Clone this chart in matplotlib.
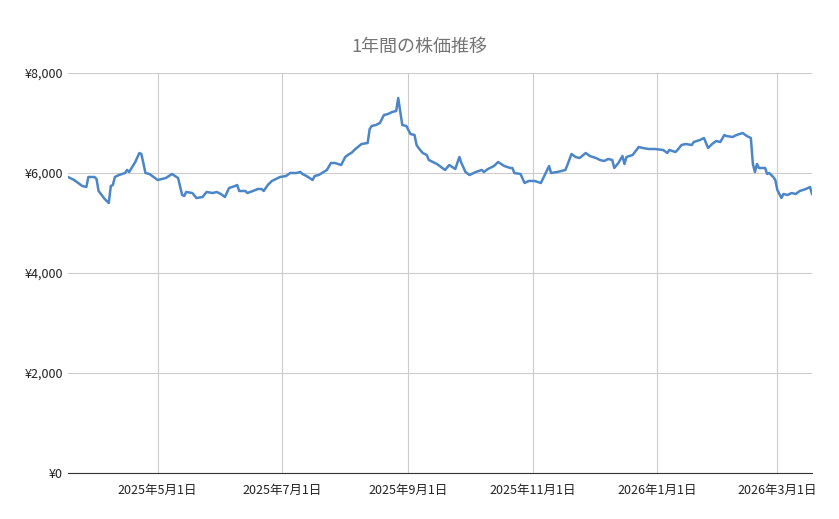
import matplotlib
matplotlib.use("Agg")
import matplotlib.pyplot as plt
import matplotlib.dates as mdates
import numpy as np
import pandas as pd

plt.rcParams['font.family'] = ['Noto Sans CJK JP', 'DejaVu Sans']

start_date = "2025-03-18"
day_offsets = [0,3,7,9,10,13,14,15,18,20,21,22,23,25,28,29,30,33,35,36,38,40,44,48,51,54,56,57,58,61,63,66,68,71,73,75,77,79,82,83,84,87,88,92,93,95,96,98,100,103,104,107,109,112,114,115,117,120,121,123,127,129,131,134,136,138,139,141,144,147,148,149,151,153,155,157,159,161,162,164,166,168,170,171,172,174,176,177,181,183,185,187,190,192,193,195,197,200,203,204,206,209,211,214,217,218,219,222,224,226,229,232,236,237,240,244,245,247,249,251,254,256,259,261,263,265,267,268,270,272,273,274,277,280,282,285,288,292,294,295,298,299,301,303,306,307,310,312,314,316,318,320,322,323,326,328,331,333,335,336,337,338,339,342,343,344,346,347,348,350,351,353,355,357,359,362,364,365]
pixel_y = [177,180,186,187,177,177,179,191,199,203,186,185,177,175,173,170,172,162,153,154,173,174,180,178,174,178,195,196,192,193,198,197,192,193,192,194,197,188,186,185,191,191,193,190,189,189,191,185,181,178,177,176,173,173,172,174,176,180,176,175,170,163,163,165,157,154,153,149,144,143,129,126,125,123,115,114,112,111,98,125,126,134,135,145,148,153,155,160,164,167,170,165,169,157,163,172,175,172,170,172,169,166,162,166,168,168,173,174,183,181,181,183,166,173,172,170,165,154,157,158,153,156,158,160,161,159,160,168,163,156,164,157,155,147,148,149,149,150,153,150,152,150,145,144,145,142,140,138,148,144,141,142,135,136,137,135,133,136,138,164,172,164,168,168,174,173,177,180,190,198,194,195,193,194,191,189,187,194]
prices = [(473 - p) * 20 for p in pixel_y]

dates = pd.to_datetime(start_date) + pd.to_timedelta(day_offsets, unit="D")

fig = plt.figure(figsize=(8.39, 5.19), dpi=100)
ax = fig.add_axes([68/839, 1-473/519, (812-68)/839, 400/519])
ax.plot(dates, prices, color="#4a86c8", lw=1.8)
ax.set_xlim(dates[0], dates[-1])
ax.set_ylim(0, 8000)
ax.set_yticks([0, 2000, 4000, 6000, 8000])
ax.set_yticklabels(["¥0", "¥2,000", "¥4,000", "¥6,000", "¥8,000"])
ticks = pd.to_datetime(["2025-05-01","2025-07-01","2025-09-01","2025-11-01","2026-01-01","2026-03-01"])
ax.set_xticks(ticks)
ax.set_xticklabels([f"{d.year}年{d.month}月{d.day}日" for d in ticks])
ax.grid(True, color="#cccccc", lw=0.8)
ax.set_axisbelow(True)
for s in ["top", "right", "left"]:
    ax.spines[s].set_visible(False)
ax.spines["bottom"].set_color("#333333")
ax.tick_params(length=0, labelsize=9, colors="#222222")
ax.tick_params(axis="x", pad=8)
fig.suptitle("1年間の株価推移", y=1-38/519, fontsize=13, color="#757575")
fig.savefig("out.png", dpi=100)
